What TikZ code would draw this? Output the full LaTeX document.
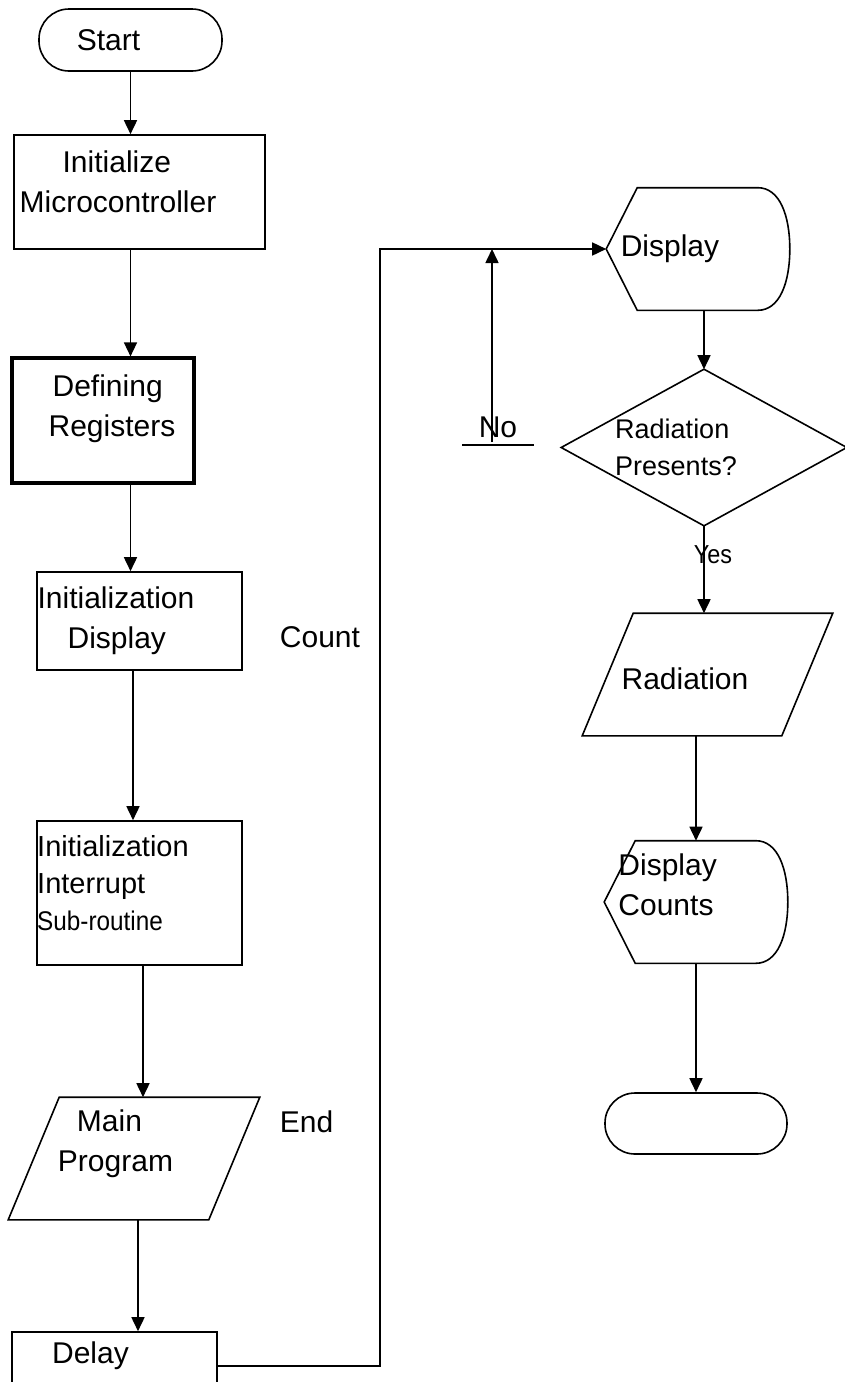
\documentclass[tikz,border=0pt]{standalone}
\usepackage{fontspec}
\setmainfont{Liberation Sans}
\newfontfamily\narrowsans[FakeStretch=0.9]{Liberation Sans}
\usetikzlibrary{arrows.meta}
\newcommand\fsmain{\fontsize{30}{40}\selectfont}
\newcommand\fsintr{\fontsize{29}{37}\selectfont}
\newcommand\fsdec{\fontsize{27}{37}\selectfont}
\tikzset{
	arr/.style={-{Triangle[length=14pt,width=13pt]}},
	term/.style={draw,rectangle,rounded corners=30pt,minimum width=183pt,minimum height=62pt,inner sep=0pt},
	proc/.style={draw,rectangle,align=left,inner sep=0pt},
	io/.style={rectangle,minimum width=250pt,minimum height=121pt,inner sep=0pt,align=left},
	disp/.style={rectangle,minimum width=182pt,minimum height=121pt,inner sep=0pt,align=left},
	lbl/.style={inner sep=0pt}
}
\begin{document}
\begin{tikzpicture}[x=1pt,y=-1pt,line width=1.6pt,font=\fsmain]
	\useasboundingbox (0,0) rectangle (844,1382);
	
	\node[term] (start) at (130.5,40) {Start\hspace*{44pt}};
	\node[proc,minimum width=251pt,minimum height=114pt,text depth=20pt] (init) at (139.5,192) {\hspace*{43pt}Initialize\\Microcontroller\hspace*{43pt}};
	\node[proc,line width=3.2pt,minimum width=182pt,minimum height=125pt,text depth=29pt] (def) at (103,420.5) {\hspace*{22pt}Defining\\\hspace*{18pt}Registers};
	\node[proc,minimum width=205pt,minimum height=98pt] (idisp) at (139.5,621) {Initialization\hspace*{47pt}\\\hspace*{30pt}Display};
	\node[proc,font=\fsintr,minimum width=205pt,minimum height=144pt,text depth=20pt] (intr) at (139.5,893) {Initialization\hspace*{53pt}\\Interrupt\\{\narrowsans\fontsize{27}{37}\selectfont Sub-routine}};
	\node[io,text depth=35pt] (main) at (134,1158.5) {\hspace*{19pt}Main\\Program\hspace*{37pt}};
	\node[proc,minimum width=205pt,minimum height=68pt,text depth=26pt] (dly) at (114.5,1366) {Delay\hspace*{48pt}};
	\node[lbl] (count) at (320,637) {Count};
	\node[lbl] (endlbl) at (306.5,1122) {End};
	
	\node[disp] (dsp) at (698,249) {Display\hspace*{56pt}};
	\node[rectangle,minimum width=284pt,minimum height=155pt,inner sep=0pt,align=left,font=\fsdec] (dec) at (704,447.5) {Radiation\\Presents?\hspace*{56pt}};
	\node[io,minimum width=249pt,text height=31pt] (rad) at (707.5,674.5) {Radiation\hspace*{45pt}};
	\node[disp,text depth=35pt] (dcnt) at (696,902) {Display\\Counts\hspace*{60pt}};
	\node[term,minimum width=182pt,minimum height=61pt] (stop) at (696,1123.5) {};
	\node[lbl,font=\narrowsans\fontsize{26}{30}\selectfont] (yes) at (713,555) {Yes};
	\node[lbl,anchor=base,minimum width=70pt] (no) at (498,437) {No};
	
	\draw (dec.north) -- (dec.east) -- (dec.south) -- (dec.west) -- cycle;
	\foreach \n in {main,rad}
	\draw (\n.south west) -- ([xshift=51pt]\n.north west) -- (\n.north east) -- ([xshift=-51pt]\n.south east) -- cycle;
	\foreach \n in {dsp,dcnt}
	\draw (\n.west) -- ([xshift=31pt]\n.north west) -- ([xshift=-32pt]\n.north east)
		.. controls ([xshift=-10pt]\n.north east) and ([yshift=-28pt]\n.north east) .. (\n.east)
		.. controls ([yshift=28pt]\n.south east) and ([xshift=-10pt]\n.south east) .. ([xshift=-32pt]\n.south east)
		-- ([xshift=31pt]\n.south west) -- cycle;
	\draw[line width=2.6pt] ([yshift=-8pt]no.base west) -- ([yshift=-8pt]no.base east);
	
	\coordinate (jn) at (380,249);
	\coordinate (nj) at (492,249);
	\draw[arr] (start.south) -- (start.south |- init.north);
	\draw[arr] (init.south -| start.south) -- (def.north -| start.south);
	\draw[arr] (def.south -| start.south) -- (idisp.north -| start.south);
	\draw[arr] ([xshift=-6.5pt]idisp.south) -- ([xshift=-6.5pt]idisp.south |- intr.north);
	\draw[arr] ([xshift=3.5pt]intr.south) -- ([xshift=3.5pt]intr.south |- main.north);
	\draw[arr] ([xshift=4pt]main.south) -- ([xshift=4pt]main.south |- dly.north);
	\draw[arr] (dly.east) -| (jn) -- (dsp.west);
	\draw[arr] ([yshift=-5pt]no.base -| nj) -- (nj);
	\draw[arr] (dsp.south -| dec.north) -- (dec.north);
	\draw[arr] (dec.south) -- (dec.south |- rad.north);
	\draw[arr] (rad.south -| dcnt.north) -- (dcnt.north);
	\draw[arr] (dcnt.south) -- (stop.north);
\end{tikzpicture}
\end{document}
